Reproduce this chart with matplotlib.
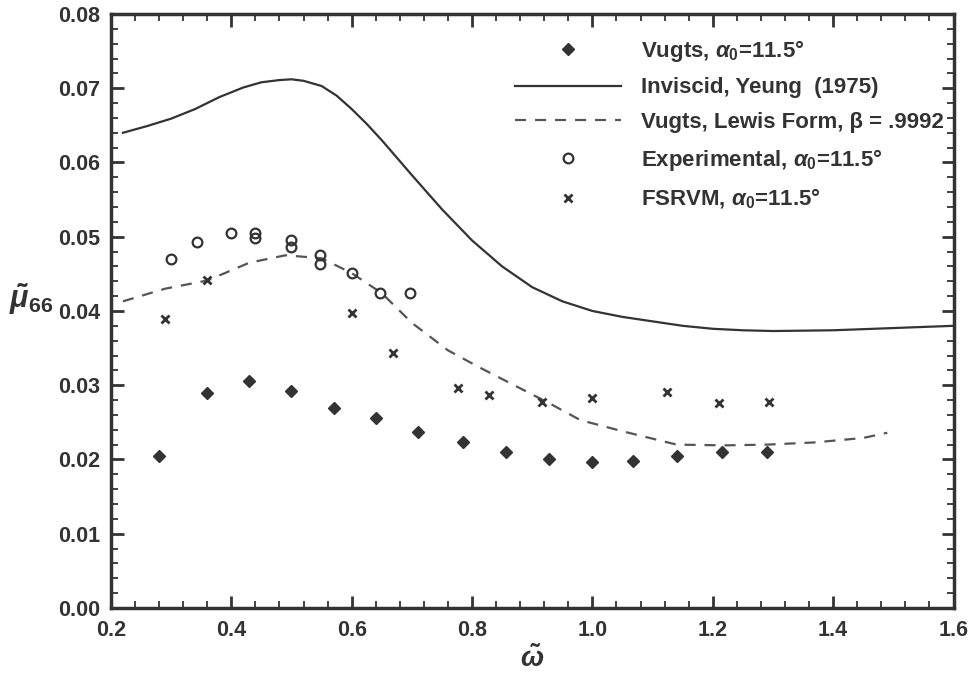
import matplotlib
matplotlib.use("Agg")
import matplotlib.pyplot as plt
from matplotlib.ticker import MultipleLocator, FormatStrFormatter

plt.rcParams['font.family'] = ['Liberation Sans', 'DejaVu Sans']
plt.rcParams['font.weight'] = 'bold'
plt.rcParams['mathtext.fontset'] = 'custom'
plt.rcParams['mathtext.rm'] = 'Liberation Sans:bold'
plt.rcParams['mathtext.it'] = 'Liberation Sans:bold:italic'
plt.rcParams['mathtext.bf'] = 'Liberation Sans:bold'

# Inviscid, Yeung (1975)
inv_w = [0.22, 0.26, 0.30, 0.34, 0.38, 0.42, 0.45, 0.48, 0.50, 0.52, 0.55, 0.575,
         0.60, 0.625, 0.65, 0.70, 0.75, 0.80, 0.85, 0.90, 0.95, 1.00, 1.05, 1.10,
         1.15, 1.20, 1.25, 1.30, 1.40, 1.50, 1.60]
inv_mu = [0.0640, 0.0649, 0.0659, 0.0672, 0.0688, 0.0701, 0.0708, 0.0711, 0.0712,
          0.0710, 0.0703, 0.0690, 0.0672, 0.0652, 0.0630, 0.0583, 0.0537, 0.0495,
          0.0460, 0.0432, 0.0413, 0.0400, 0.0392, 0.0386, 0.0380, 0.0376, 0.0374,
          0.0373, 0.0374, 0.0377, 0.0380]

# Vugts, Lewis form
lew_w = [0.22, 0.29, 0.36, 0.43, 0.49, 0.55, 0.60, 0.65, 0.70, 0.76, 0.81,
         0.87, 0.93, 0.98, 1.05, 1.14, 1.22, 1.29, 1.37, 1.45, 1.49]
lew_mu = [0.0413, 0.0430, 0.0441, 0.0465, 0.0475, 0.0471, 0.0451, 0.0424, 0.0384,
          0.0347, 0.0325, 0.0300, 0.0275, 0.0253, 0.0238, 0.0220, 0.0219, 0.0220,
          0.0223, 0.0229, 0.0236]

# Vugts, alpha0 = 11.5
vug_w = [0.28, 0.36, 0.43, 0.50, 0.57, 0.64, 0.71, 0.785, 0.856, 0.928, 1.00,
         1.067, 1.14, 1.215, 1.29]
vug_mu = [0.0205, 0.0290, 0.0306, 0.0292, 0.0269, 0.0256, 0.0237, 0.0224, 0.0210,
          0.0201, 0.0197, 0.0198, 0.0205, 0.0210, 0.0210]

# Experimental
exp_w = [0.30, 0.343, 0.40, 0.44, 0.44, 0.50, 0.50, 0.547, 0.547, 0.60, 0.647, 0.697]
exp_mu = [0.0470, 0.0493, 0.0505, 0.0505, 0.0498, 0.0496, 0.0486, 0.0475, 0.0463,
          0.0451, 0.0424, 0.0424]

# FSRVM
fs_w = [0.29, 0.36, 0.60, 0.668, 0.776, 0.828, 0.916, 1.00, 1.124, 1.21, 1.293]
fs_mu = [0.0389, 0.0442, 0.0397, 0.0343, 0.0296, 0.0287, 0.0277, 0.0283, 0.0291,
         0.0276, 0.0277]

ink = '#333333'

fig = plt.figure(figsize=(9.73, 6.75), dpi=100)
ax = fig.add_axes([0.114, 0.0993, 0.866, 0.8800])

ax.plot(vug_w, vug_mu, linestyle='none', marker='D', markersize=6.5,
        color=ink, label=r'Vugts, $\alpha_0$=11.5°')
ax.plot(inv_w, inv_mu, '-', color=ink, linewidth=1.6,
        label='Inviscid, Yeung  (1975)')
ax.plot(lew_w, lew_mu, '--', color='#555555', linewidth=1.6, dashes=(5, 4),
        label='Vugts, Lewis Form, β = .9992')
ax.plot(exp_w, exp_mu, linestyle='none', marker='o', markersize=7,
        markerfacecolor='none', markeredgecolor=ink, markeredgewidth=1.6,
        label=r'Experimental, $\alpha_0$=11.5°')
ax.plot(fs_w, fs_mu, linestyle='none', marker='x', markersize=6,
        markeredgewidth=2, color=ink, label=r'FSRVM, $\alpha_0$=11.5°')

ax.set_xlim(0.2, 1.6)
ax.set_ylim(0.0, 0.08)
ax.xaxis.set_major_locator(MultipleLocator(0.2))
ax.xaxis.set_minor_locator(MultipleLocator(0.04))
ax.yaxis.set_major_locator(MultipleLocator(0.01))
ax.yaxis.set_minor_locator(MultipleLocator(0.002))
ax.xaxis.set_major_formatter(FormatStrFormatter('%.1f'))
ax.yaxis.set_major_formatter(FormatStrFormatter('%.2f'))

ax.tick_params(which='both', direction='in', top=True, right=True,
               colors=ink, labelsize=15.5)
ax.tick_params(axis='x', which='major', pad=9)
ax.tick_params(axis='y', which='major', pad=8)
ax.tick_params(which='major', length=9, width=2)
ax.tick_params(which='minor', length=5, width=1.3)
for s in ax.spines.values():
    s.set_linewidth(2.5)
    s.set_color(ink)

ax.set_xlabel(r'$\tilde{\omega}$', fontsize=20, color=ink, labelpad=3)
ax.set_ylabel(r'$\tilde{\mu}_{66}$', fontsize=22, color=ink, rotation=0)
ax.yaxis.set_label_coords(-0.095, 0.49)

leg = ax.legend(loc='upper right', frameon=False, fontsize=16,
                handlelength=4.8, handletextpad=0.9, labelspacing=0.62,
                borderaxespad=0.4, bbox_to_anchor=(1.01, 0.99))
for t in leg.get_texts():
    t.set_color(ink)

fig.savefig('out.png', dpi=100)
